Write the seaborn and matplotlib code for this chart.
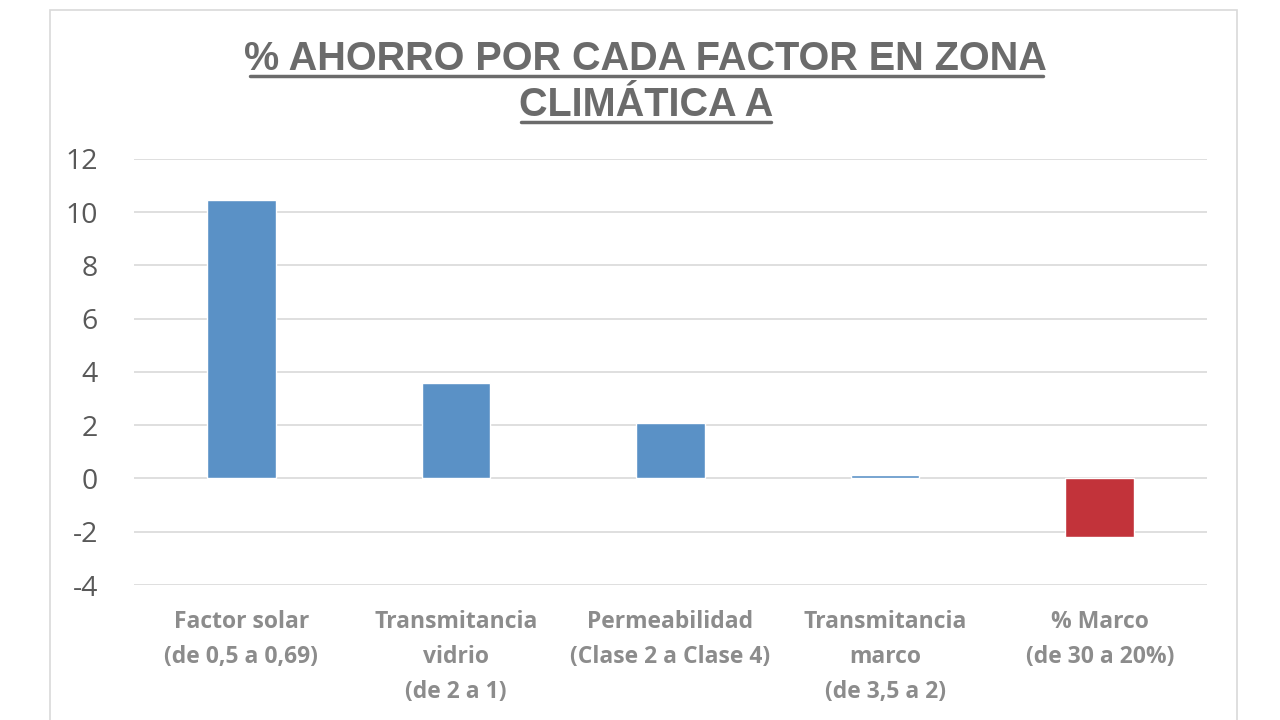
import matplotlib
matplotlib.use("Agg")
import matplotlib.pyplot as plt
import seaborn as sns
import pandas as pd
from matplotlib.patches import Rectangle

sns.set_theme(style="white")
plt.rcParams['font.family'] = ['Open Sans', 'DejaVu Sans']
plt.rcParams['axes.unicode_minus'] = False

# Datos
factores = [
    "Factor solar\n(de 0,5 a 0,69)",
    "Transmitancia\nvidrio\n(de 2 a 1)",
    "Permeabilidad\n(Clase 2 a Clase 4)",
    "Transmitancia\nmarco\n(de 3,5 a 2)",
    "% Marco\n(de 30 a 20%)",
]
ahorro = [10.45, 3.6, 2.08, 0.12, -2.18]
colores = ["#5A91C6", "#5A91C6", "#5A91C6", "#5A91C6", "#C2333A"]
y_ticks = [-4, -2, 0, 2, 4, 6, 8, 10, 12]
titulo = ["% AHORRO POR CADA FACTOR EN ZONA", "CLIMÁTICA A"]

df = pd.DataFrame({"factor": factores, "ahorro": ahorro})

fig = plt.figure(figsize=(12.8, 7.2), dpi=100)
fig.patch.set_facecolor("white")

# marco del grafico
fig.add_artist(Rectangle((50 / 1280, -0.05), 1187 / 1280, 1.036,
                         transform=fig.transFigure, fill=False,
                         edgecolor="#D9D9D9", linewidth=1.2))

ax = fig.add_axes([134 / 1280, 0.1875, 1073 / 1280, 0.5917])
sns.barplot(data=df, x="factor", y="ahorro", hue="factor", palette=colores,
            legend=False, width=0.32, saturation=1, ax=ax)

ax.set_ylim(-4, 12)
ax.set_yticks(y_ticks)
ax.set_xlim(-0.5, 4.5)
ax.yaxis.grid(True, color="#D9D9D9", linewidth=1.2)
ax.set_axisbelow(True)
for s in ax.spines.values():
    s.set_visible(False)
ax.set_xlabel("")
ax.set_ylabel("")
ax.tick_params(axis="y", labelsize=20.5, labelcolor="#595959", length=0, pad=26)
ax.set_xticks([])

# etiquetas de categoria bajo el eje
for i, lab in enumerate(factores):
    ax.text(i, -4.95, lab, ha="center", va="top", fontsize=16.5,
            fontweight="bold", color="#8C8C8C", linespacing=1.6,
            transform=ax.transData)

# titulo subrayado, linea a linea
for txt, ypix in zip(titulo, [59, 105]):
    fig.text(0.5045, 1 - ypix / 720, txt, ha="center", va="center",
             fontsize=28.5, fontweight="bold", color="#6B6B6B",
             family=["Liberation Sans", "DejaVu Sans"])

fig.add_artist(plt.Line2D([250 / 1280, 1043 / 1280], [1 - 76 / 720] * 2,
                          transform=fig.transFigure, color="#6B6B6B", linewidth=2.5))
fig.add_artist(plt.Line2D([521 / 1280, 771 / 1280], [1 - 122 / 720] * 2,
                          transform=fig.transFigure, color="#6B6B6B", linewidth=2.5))

fig.savefig("out.png", dpi=100)
